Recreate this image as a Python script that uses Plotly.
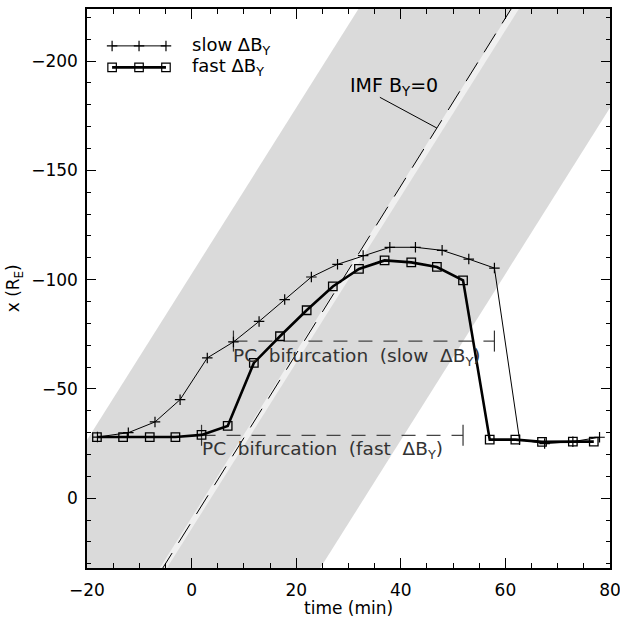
import plotly.graph_objects as go

# ---------------- data ----------------
slow_t = [-18.0, -12.1, -7.0, -2.2, 3.0, 8.0, 12.9, 17.8, 22.9, 27.9, 32.8, 37.9,
          42.8, 47.9, 53.0, 57.9, 62.7, 67.5, 72.9, 78.0]
slow_x = [-28.0, -30.0, -34.9, -45.1, -64.2, -71.5, -80.9, -90.9, -101.2, -107.0, -111.0,
          -114.8, -114.8, -113.4, -109.4, -105.3, -26.8, -25.0, -25.9, -27.9]

fast_t = [-18.1, -13.1, -8.0, -3.1, 1.9, 6.9, 11.9, 16.9, 22.0, 27.0, 32.0, 36.9,
          42.0, 46.9, 51.9, 57.0, 61.9, 67.0, 72.9, 76.9]
fast_x = [-28.0, -28.0, -28.0, -28.0, -29.0, -33.1, -61.9, -74.1, -86.0, -96.9, -104.9,
          -108.8, -107.9, -105.8, -99.7, -26.8, -26.8, -25.8, -25.9, -25.9]

# PC bifurcation intervals: start time, end time, x level
pc_slow_t = [8.0, 57.9]
pc_slow_x = -71.9
pc_fast_t = [1.9, 51.9]
pc_fast_x = -28.8

# IMF By=0 propagation (x = -slope * (t - t0))
band_slope = 3.8       # R_E / min
band_t0 = 3.0          # min
band_half = 30.0       # min
imf_slope = 3.84
imf_t0 = 2.8

x_ticks = [-20, 0, 20, 40, 60, 80]
y_ticks = [-200, -150, -100, -50, 0]

X_RANGE = [-20, 80]
Y_RANGE = [31.9, -223.8]

FONT = "DejaVu Sans"


def t_of(x, t0, slope, off=0.0):
    return t0 + off - x / slope


xa, xb = 60.0, -260.0
band_t = [t_of(xa, band_t0, band_slope, -band_half), t_of(xb, band_t0, band_slope, -band_half),
          t_of(xb, band_t0, band_slope, band_half), t_of(xa, band_t0, band_slope, band_half)]
band_x = [xa, xb, xb, xa]

fig = go.Figure()

# shaded band
fig.add_trace(go.Scatter(x=band_t, y=band_x, fill="toself", fillcolor="#dadada",
                         line=dict(width=0), mode="lines", hoverinfo="skip", showlegend=False))
# light strip
fig.add_trace(go.Scatter(x=[t_of(xa, band_t0, band_slope), t_of(xb, band_t0, band_slope)],
                         y=[xa, xb], mode="lines", line=dict(color="#f0f0f0", width=6),
                         showlegend=False))
# IMF By=0 dashed line
fig.add_trace(go.Scatter(x=[t_of(xa, imf_t0, imf_slope), t_of(xb, imf_t0, imf_slope)],
                         y=[xa, xb], mode="lines",
                         line=dict(color="black", width=1, dash="22px,12px"),
                         showlegend=False))

# IMF label leader line
lbl_t, lbl_x = 36.0, -183.4
tgt_t = 46.9
fig.add_trace(go.Scatter(x=[lbl_t, tgt_t], y=[lbl_x, -imf_slope * (tgt_t - imf_t0)],
                         mode="lines", line=dict(color="black", width=1), showlegend=False))

# PC bifurcation bars
for ts, lev in [(pc_slow_t, pc_slow_x), (pc_fast_t, pc_fast_x)]:
    fig.add_trace(go.Scatter(x=ts, y=[lev, lev], mode="lines",
                             line=dict(color="#444444", width=1.3, dash="14px,11px"),
                             showlegend=False))
    fig.add_trace(go.Scatter(x=ts, y=[lev, lev], mode="markers",
                             marker=dict(symbol="line-ns", size=15,
                                         line=dict(color="#333333", width=1.2)),
                             showlegend=False))

# series
fig.add_trace(go.Scatter(x=slow_t, y=slow_x, mode="lines+markers",
                         line=dict(color="black", width=1),
                         marker=dict(symbol="cross-thin", size=7.5,
                                     line=dict(color="black", width=1.2)),
                         showlegend=False))
fig.add_trace(go.Scatter(x=fast_t, y=fast_x, mode="lines+markers",
                         line=dict(color="black", width=2.6),
                         marker=dict(symbol="square-open", size=8.5, color="black",
                                     line=dict(color="black", width=1.3)),
                         showlegend=False))

# manual legend on an overlay axis (0..1)
leg_x = [0.048, 0.0995, 0.151]
leg_rows = [(0.934, "cross-thin", 1, 7.5, "slow ΔB<sub>Y</sub>"),
            (0.8955, "square-open", 2.6, 8.5, "fast ΔB<sub>Y</sub>")]
for yy, sym, lw, ms, label in leg_rows:
    fig.add_trace(go.Scatter(x=leg_x, y=[yy] * 3, xaxis="x2", yaxis="y2",
                             mode="lines+markers", line=dict(color="black", width=lw),
                             marker=dict(symbol=sym, size=ms, color="black",
                                         line=dict(color="black", width=1.2)),
                             showlegend=False))
    fig.add_annotation(x=0.197, y=yy, xref="x2", yref="y2", text=label, showarrow=False,
                       xanchor="left", yanchor="middle",
                       font=dict(family=FONT, size=18, color="black"))

# text labels
fig.add_annotation(x=lbl_t, y=lbl_x, text="IMF B<sub>Y</sub>=0", showarrow=False,
                   xanchor="left", yanchor="bottom", xshift=-32, yshift=-4,
                   font=dict(family=FONT, size=19, color="black"))
fig.add_annotation(x=pc_slow_t[0], y=pc_slow_x, text="PC  bifurcation  (slow  ΔB<sub>Y</sub>)",
                   showarrow=False, xanchor="left", yanchor="middle", yshift=-16, xshift=-2,
                   font=dict(family=FONT, size=18.5, color="#333333"))
fig.add_annotation(x=pc_fast_t[0], y=pc_fast_x, text="PC  bifurcation  (fast  ΔB<sub>Y</sub>)",
                   showarrow=False, xanchor="left", yanchor="middle", yshift=-15, xshift=-2,
                   font=dict(family=FONT, size=18.5, color="#333333"))

# axis titles
fig.add_annotation(x=0.5, y=-0.072, xref="paper", yref="paper", text="time (min)",
                   showarrow=False, xanchor="center", yanchor="middle",
                   font=dict(family=FONT, size=17, color="black"))
fig.add_annotation(x=-0.138, y=0.5, xref="paper", yref="paper", text="x (R<sub>E</sub>)",
                   showarrow=False, textangle=-90, xanchor="center", yanchor="middle",
                   font=dict(family=FONT, size=17, color="black"))

axis_common = dict(showline=True, linecolor="black", linewidth=1.5, mirror="ticks",
                   ticks="inside", tickcolor="black", tickwidth=1.2, showgrid=False,
                   zeroline=False, automargin=False, ticklabeloverflow="allow",
                   tickfont=dict(family=FONT, size=17, color="black"))

fig.update_layout(
    width=620, height=621, margin=dict(l=87, r=10, t=9, b=53),
    paper_bgcolor="white", plot_bgcolor="white",
    xaxis=dict(range=X_RANGE, tickvals=x_ticks, ticklen=10,
               minor=dict(dtick=5, tick0=0, ticklen=5, ticks="inside", tickcolor="black",
                          tickwidth=1.2),
               ticklabelstandoff=6, **axis_common),
    yaxis=dict(range=Y_RANGE, tickvals=y_ticks, ticklen=9,
               minor=dict(dtick=10, tick0=0, ticklen=4.5, ticks="inside", tickcolor="black",
                          tickwidth=1.2),
               ticklabelstandoff=4, **axis_common),
    xaxis2=dict(range=[0, 1], overlaying="x", visible=False, fixedrange=True),
    yaxis2=dict(range=[0, 1], overlaying="y", visible=False, fixedrange=True),
    showlegend=False,
)

fig.write_html("out.html")
